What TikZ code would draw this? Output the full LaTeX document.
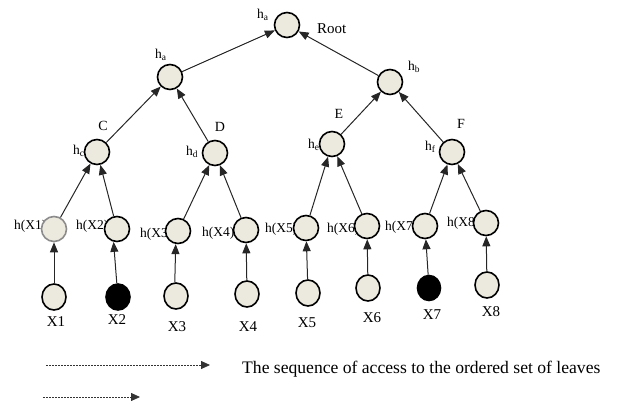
\documentclass[tikz,border=0pt]{standalone}
\usepackage{fontspec}
\setmainfont{Liberation Serif}
\usetikzlibrary{arrows.meta,shapes.geometric}
\definecolor{nodefill}{RGB}{236,234,223}
\begin{document}
\begin{tikzpicture}[x=1pt,y=-1pt,
  hn/.style={circle, draw=black, line width=1.6pt, fill=nodefill, minimum size=25pt, inner sep=0pt},
  lf/.style={ellipse, draw=black, line width=1.6pt, fill=nodefill, minimum width=24pt, minimum height=26pt, inner sep=0pt},
  blk/.style={fill=black},
  hl/.style={anchor=base west, inner sep=0pt, font=\fontsize{13.5}{15}\selectfont},
  xl/.style={inner sep=0pt, font=\fontsize{15}{17}\selectfont},
  cl/.style={inner sep=0pt, font=\fontsize{14}{16}\selectfont},
  edge/.style={-{Triangle[length=10pt,width=8pt]}, line width=1pt, draw=black!85},
  dedge/.style={-{Triangle[length=9pt,width=8pt]}, line width=0.8pt, draw=black!80, dash pattern=on 2pt off 1pt}]
\useasboundingbox (0,0) rectangle (619,407);
% labels (drawn first, circles cover parts of them)
\node[hl] (lr) at (257,18) {h\textsubscript{a}};
\node[hl] (la) at (155,58) {h\textsubscript{a}};
\node[hl] (lb) at (408,70) {h\textsubscript{b}};
\node[hl,font=\fontsize{15}{17}\selectfont] (troot) at (317,33) {Root};
\node[cl] (tC) at (103,126) {C};
\node[cl] (tD) at (220,127) {D};
\node[cl] (tE) at (339,114) {E};
\node[cl] (tF) at (461,124) {F};
\node[hl] (lc) at (73,154) {h\textsubscript{c}};
\node[hl] (ld) at (186,155) {h\textsubscript{d}};
\node[hl] (le) at (308,148) {h\textsubscript{e}};
\node[hl] (lf) at (425,150) {h\textsubscript{f}};
\node[hl] (l1) at (14,229) {h(X1)};
\node[hl] (l2) at (76,229) {h(X2)};
\node[hl] (l3) at (140,237) {h(X3)};
\node[hl] (l4) at (202,236) {h(X4)};
\node[hl] (l5) at (265,232) {h(X5)};
\node[hl] (l6) at (327,232) {h(X6)};
\node[hl] (l7) at (385,230) {h(X7)};
\node[hl] (l8) at (447,226) {h(X8)};
% tree nodes
\node[hn] (root) at (287,25) {};
\node[hn] (A) at (170,77) {};
\node[hn] (B) at (390,82) {};
\node[hn] (C) at (97,152) {};
\node[hn] (D) at (215,153) {};
\node[hn] (E) at (332,144) {};
\node[hn] (F) at (452,152) {};
\node[hn,draw=black!45] (h1) at (54,229) {};
\node[hn] (h2) at (117,229) {};
\node[hn] (h3) at (178,231) {};
\node[hn] (h4) at (246,230) {};
\node[hn] (h5) at (306,228) {};
\node[hn] (h6) at (367,226) {};
\node[hn] (h7) at (425,226) {};
\node[hn] (h8) at (486,223) {};
% leaves
\node[lf] (x1) at (54,297) {};
\node[lf,blk] (x2) at (118,297) {};
\node[lf] (x3) at (176,296) {};
\node[lf] (x4) at (247,294) {};
\node[lf] (x5) at (308,293) {};
\node[lf] (x6) at (368,288) {};
\node[lf,blk,minimum width=23pt,minimum height=25pt] (x7) at (429,288) {};
\node[lf] (x8) at (487,285) {};
% leaf labels
\node[xl] (t1) at (56,322) {X1};
\node[xl] (t2) at (117,320) {X2};
\node[xl] (t3) at (177,327) {X3};
\node[xl] (t4) at (248,327) {X4};
\node[xl] (t5) at (307,323) {X5};
\node[xl] (t6) at (372,318) {X6};
\node[xl] (t7) at (432,315) {X7};
\node[xl] (t8) at (491,312) {X8};
% edges
\draw[edge] (A) -- (root);
\draw[edge] (B) -- (root);
\draw[edge] (C) -- (A);
\draw[edge] (D) -- (A);
\draw[edge] (E) -- (B);
\draw[edge] (F) -- (B);
\draw[edge] (h1) -- (C);
\draw[edge] (h2) -- (C);
\draw[edge] (h3) -- (D);
\draw[edge] (h4) -- (D);
\draw[edge] (h5) -- (E);
\draw[edge] (h6) -- (E);
\draw[edge] (h7) -- (F);
\draw[edge] (h8) -- (F);
\draw[edge] (x1) -- (h1);
\draw[edge] (x2.95) -- (h2.255);
\draw[edge] (x3.95) -- (h3.260);
\draw[edge] (x4) -- (h4);
\draw[edge] (x5) -- (h5);
\draw[edge] (x6) -- (h6);
\draw[edge] (x7) -- (h7);
\draw[edge] (x8) -- (h8);
% legend
\coordinate (d1s) at (46,365);
\coordinate (d1e) at (210,365);
\coordinate (d2s) at (43,397);
\coordinate (d2e) at (140,397);
\draw[dedge] (d1s) -- (d1e);
\draw[dedge] (d2s) -- (d2e);
\node[anchor=base west, inner sep=0pt, font=\fontsize{17.6}{20}\selectfont] (leg) at (242,373) {The sequence of access to the ordered set of leaves};
\end{tikzpicture}
\end{document}
